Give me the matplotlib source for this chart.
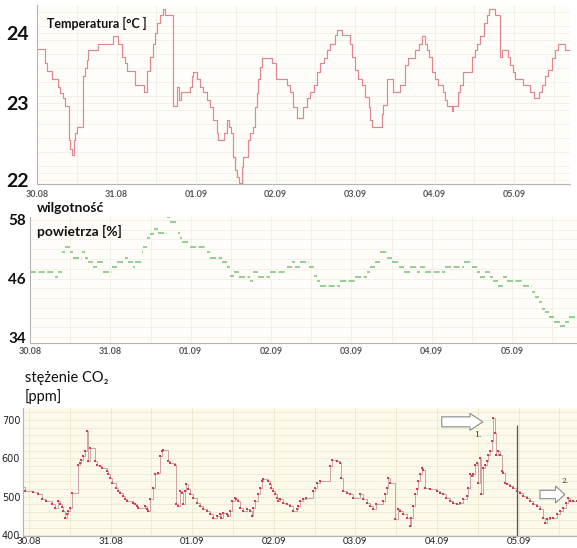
import numpy as np
import matplotlib
matplotlib.use("Agg")
import matplotlib.pyplot as plt
from matplotlib.patches import FancyArrow

plt.rcParams['font.family'] = ['Lato', 'DejaVu Sans']

# ---------------- data ----------------
day_labels = ['30.08', '31.08', '01.09', '02.09', '03.09', '04.09', '05.09']
day_hours = [0, 24, 48, 72, 96, 120, 144]

temp_hours = [0, 2.4, 2.9, 4.4, 6.4, 6.9, 7.7, 8.5, 9.7, 10.1, 10.6, 11.1, 11.5, 12.0, 14.0, 14.5, 15.0, 15.5,
              18.5, 23.0, 24.6, 25.6, 26.6, 27.1, 29.6, 32.3, 33.3, 34.1, 34.9, 35.6, 36.1, 37.1, 37.9, 38.6,
              41.2, 42.4, 42.9, 43.5, 46.2, 46.7, 47.2, 48.2, 49.2, 50.2, 51.2, 52.2, 53.2, 54.2, 54.7, 56.3,
              57.3, 58.1, 58.5, 59.3, 59.8, 60.3, 61.1, 61.8, 62.3, 63.8, 64.3, 65.3, 65.8, 66.3, 66.8, 67.3,
              67.8, 70.8, 72.0, 75.4, 76.4, 77.4, 78.4, 80.4, 81.4, 82.5, 83.5, 84.5, 85.5, 86.5, 87.5, 88.5,
              90.0, 90.5, 92.0, 94.5, 95.0, 96.0, 97.0, 98.0, 99.1, 100.1, 100.6, 101.1, 104.1, 104.6, 105.6,
              107.6, 109.6, 111.1, 112.1, 114.1, 115.2, 116.2, 117.2, 117.7, 118.2, 119.2, 120.2, 121.2, 122.7,
              123.2, 123.7, 125.2, 125.7, 127.2, 127.7, 128.7, 131.2, 132.3, 132.8, 133.8, 134.8, 135.8, 136.3,
              138.3, 139.8, 140.3, 142.3, 142.8, 143.8, 144.3, 146.8, 148.9, 149.9, 151.4, 152.4, 153.4, 154.4,
              155.4, 156.4, 157.4, 159.4, 160.9]
temp_values = [23.77, 23.57, 23.46, 23.35, 23.23, 23.14, 23.07, 22.96, 22.47, 22.35, 22.26, 22.47, 22.57, 22.66,
               23.38, 23.50, 23.61, 23.76, 23.85, 23.96, 23.85, 23.66, 23.57, 23.46, 23.26, 23.16, 23.46, 23.66,
               23.85, 24.00, 24.14, 24.26, 24.35, 24.26, 22.96, 23.23, 23.04, 23.16, 23.23, 23.38, 23.45, 23.35,
               23.23, 23.16, 23.04, 22.95, 22.76, 22.57, 22.47, 22.57, 22.76, 22.66, 22.57, 22.23, 22.04, 21.95,
               21.86, 22.09, 22.23, 22.47, 22.57, 22.66, 22.95, 23.14, 23.35, 23.52, 23.64, 23.57, 23.35, 23.26,
               23.16, 22.95, 22.78, 22.95, 23.07, 23.16, 23.26, 23.45, 23.57, 23.65, 23.76, 23.85, 23.97, 24.04,
               23.97, 23.85, 23.66, 23.47, 23.35, 23.26, 23.09, 22.95, 22.76, 22.66, 22.85, 22.97, 23.35, 23.16,
               23.26, 23.54, 23.65, 23.76, 23.85, 23.96, 23.85, 23.76, 23.66, 23.45, 23.35, 23.26, 23.16, 23.04,
               22.96, 22.88, 22.96, 23.16, 23.26, 23.45, 23.66, 23.76, 23.85, 23.96, 24.14, 24.26, 24.35, 24.26,
               23.66, 23.76, 23.66, 23.54, 23.45, 23.35, 23.26, 23.16, 23.07, 23.16, 23.26, 23.38, 23.47, 23.64,
               23.76, 23.85, 23.76, 23.76]

hum_hours = [0, 7.5, 8.5, 9.5, 10.5, 12.0, 12.9, 15.4, 16.4, 17.4, 18.9, 19.9, 21.9, 24.4, 25.9, 28.4, 29.4,
             30.9, 31.4, 33.4, 33.9, 34.9, 35.9, 36.9, 38.3, 40.8, 41.8, 44.3, 44.8, 45.3, 47.8, 52.8, 53.8,
             57.3, 58.8, 59.8, 60.8, 62.3, 65.7, 66.7, 68.2, 71.7, 76.7, 78.2, 79.2, 80.7, 83.2, 84.7, 85.7,
             86.7, 92.6, 97.1, 100.6, 101.6, 103.1, 104.6, 106.6, 108.1, 110.1, 111.6, 113.5, 115.5, 116.5,
             118.0, 124.0, 129.5, 132.0, 133.5, 134.5, 136.0, 137.5, 138.4, 139.9, 141.4, 142.4, 147.4, 149.9,
             150.9, 151.9, 152.9, 153.9, 154.9, 156.4, 158.4, 159.9, 160.9]
hum_values = [47.3, 46.4, 47.3, 51.4, 52.4, 51.4, 50.3, 51.4, 50.3, 49.3, 48.3, 49.3, 47.3, 48.3, 49.3, 50.3,
              49.3, 48.3, 49.3, 51.4, 52.4, 54.4, 55.1, 56.1, 55.4, 58.5, 57.5, 55.4, 54.4, 53.4, 52.4, 51.4,
              50.3, 49.3, 48.3, 46.6, 47.3, 46.4, 45.4, 47.3, 46.4, 47.3, 48.3, 49.3, 48.3, 49.3, 48.3, 46.6,
              45.4, 44.5, 45.4, 46.4, 47.4, 48.3, 49.3, 51.4, 50.3, 49.3, 48.3, 47.3, 48.3, 47.3, 48.3, 47.3,
              48.3, 49.3, 48.3, 47.3, 46.4, 47.3, 46.4, 45.4, 44.5, 46.4, 45.4, 44.5, 43.2, 42.2, 41.2, 39.8,
              39.2, 38.2, 37.1, 36.3, 37.1, 38.2]
hum_end = 163.4

co2_hours = [-1.7, -1.2, 1.2, 2.7, 3.7, 5.1, 6.6, 7.6, 8.6, 9.1, 9.6, 10.0, 10.5, 11.0, 11.5, 12.0, 12.5, 14.5,
             15.0, 15.4, 15.9, 16.4, 16.9, 17.4, 17.9, 19.4, 19.9, 20.8, 21.3, 22.8, 23.3, 23.8, 24.3, 25.7,
             26.2, 26.7, 27.7, 28.2, 28.7, 30.6, 31.1, 31.6, 32.1, 34.1, 34.6, 35.1, 35.5, 36.5, 37.0, 38.0,
             38.5, 39.0, 39.5, 40.9, 41.4, 42.9, 43.2, 43.9, 44.4, 44.9, 45.4, 45.8, 46.3, 46.8, 47.3, 48.3,
             49.3, 50.3, 51.2, 52.2, 53.2, 54.2, 55.2, 56.1, 56.6, 57.1, 58.1, 58.6, 59.1, 59.6, 60.6, 61.0,
             61.5, 62.0, 63.0, 64.0, 65.0, 65.5, 65.9, 66.4, 67.4, 67.9, 68.4, 68.9, 70.4, 70.9, 71.3, 71.8,
             72.3, 72.8, 73.3, 73.8, 74.8, 75.8, 76.7, 77.7, 78.7, 79.2, 79.7, 80.7, 81.6, 83.6, 84.1, 84.6,
             85.6, 88.5, 89.0, 90.5, 91.4, 91.9, 92.4, 93.4, 94.4, 95.4, 97.3, 98.3, 99.3, 100.3, 101.3, 102.2,
             104.2, 104.7, 105.2, 105.7, 106.2, 107.6, 108.6, 109.1, 110.1, 111.1, 112.0, 112.5, 113.0, 113.5,
             114.0, 114.5, 115.0, 115.5, 116.0, 116.5, 117.9, 119.9, 120.9, 121.8, 122.8, 123.8, 124.8, 125.8,
             126.8, 127.7, 128.7, 129.2, 129.7, 130.2, 130.7, 131.2, 131.7, 132.1, 132.6, 133.1, 133.6, 134.1,
             134.6, 135.1, 135.6, 136.1, 136.6, 137.0, 137.5, 138.0, 138.5, 139.0, 139.5, 140.0, 140.5, 141.5,
             142.4, 143.4, 144.4, 145.4, 146.4, 147.3, 148.3, 149.3, 150.3, 151.3, 151.8, 152.3, 153.2, 154.2,
             155.2, 156.2, 157.2, 158.1, 158.6, 159.1, 160.1, 161.1]
co2_values = [525, 515, 512, 506, 495, 489, 480, 472, 489, 480, 473, 463, 446, 454, 463, 472, 510, 584,
              588, 597, 605, 618, 670, 592, 627, 592, 584, 579, 575, 566, 558, 549, 536, 523,
              515, 510, 502, 493, 489, 485, 480, 476, 472, 476, 467, 463, 493, 523, 558, 562,
              605, 618, 622, 592, 588, 584, 480, 476, 515, 510, 480, 515, 532, 519, 506, 498,
              485, 476, 467, 463, 454, 446, 450, 454, 446, 459, 454, 450, 463, 489, 496, 493,
              489, 472, 463, 467, 463, 450, 472, 489, 506, 523, 541, 545, 541, 532, 523, 515,
              506, 498, 489, 493, 485, 480, 476, 463, 467, 476, 489, 493, 498, 515, 523, 536,
              541, 579, 597, 592, 588, 549, 515, 510, 506, 498, 506, 493, 485, 476, 467, 480,
              489, 506, 523, 549, 536, 441, 467, 463, 454, 446, 424, 446, 476, 506,
              519, 541, 558, 575, 571, 523, 519, 515, 510, 506, 498, 489, 485, 480,
              485, 493, 502, 523, 558, 554, 558, 584, 588, 536, 601, 506, 575, 584,
              592, 609, 618, 644, 704, 666, 609, 618, 609, 566, 562, 536, 532, 528,
              523, 515, 510, 502, 498, 489, 480, 476, 467, 446, 433, 441, 446, 446,
              454, 463, 472, 485, 498, 489, 489, 489]

marker_time = 143.5          # vertical marker line on 05.09
marker_top = 687
arrow1 = dict(x=121.4, y=695, dx=12.1, width=26, head_width=44, head_length=3.8)
arrow2 = dict(x=150.3, y=506, dx=7.3, width=22, head_width=44, head_length=2.7)

# ---------------- figure ----------------
W, H = 577, 548
fig = plt.figure(figsize=(W / 100, H / 100), dpi=100)
fig.patch.set_facecolor('white')


def rect(l, t, r, b):
    return [l / W, 1 - b / H, (r - l) / W, (b - t) / H]


ax1 = fig.add_axes(rect(37, 5, 570, 184))
ax2 = fig.add_axes(rect(30, 217, 577, 343))
ax3 = fig.add_axes(rect(23, 408, 577, 536))

for ax in (ax1, ax2, ax3):
    for s in ('top', 'right'):
        ax.spines[s].set_visible(False)
    for s in ('left', 'bottom'):
        ax.spines[s].set_color('#b4b4b4')
        ax.spines[s].set_linewidth(0.8)
    ax.set_xticks(day_hours)
    ax.set_xticks(np.arange(0, 162, 12), minor=True)
    ax.tick_params(which='both', length=0)
    ax.set_axisbelow(True)

# ---- panel 1: temperature ----
ax1.set_facecolor('#fefdf9')
ax1.step(temp_hours, temp_values, where='post', color='#e08690', lw=0.85)
ax1.set_xlim(0, 160.9)
ax1.set_ylim(21.843, 24.4)
ax1.set_yticks([22, 23, 24])
ax1.set_yticks(np.arange(21.9, 24.4, 0.2), minor=True)
ax1.grid(which='both', color='#f1efe4', lw=0.6)
ax1.set_yticklabels(['22', '23', '24'], fontsize=14, fontweight='bold', color='#111')
ax1.tick_params(axis='y', pad=6)
ax1.get_yticklabels()[0].set_va('top')
ax1.set_xticklabels(day_labels, fontsize=6.5, fontweight='bold', color='#555')
ax1.tick_params(axis='x', pad=4)
fig.text(47 / W, 1 - 23 / H, 'Temperatura [°C ]', fontsize=9, fontweight='bold',
         color='#111', va='center', ha='left')

# ---- panel 2: humidity ----
ax2.set_facecolor('#fefdf9')
starts = hum_hours
ends = hum_hours[1:] + [hum_end]
ax2.hlines(hum_values, starts, ends, colors='#78c275', lw=1.1, linestyles=(0, (4, 1.6)))
ax2.set_xlim(0, hum_end)
ax2.set_ylim(32.8, 58.6)
ax2.set_yticks([34, 46, 58])
ax2.set_yticks(np.arange(34, 59, 2), minor=True)
ax2.grid(which='both', color='#f1efe4', lw=0.6)
ax2.set_yticklabels(['34', '46', '58'], fontsize=11, fontweight='bold', color='#111')
ax2.tick_params(axis='y', pad=3)
ax2.set_xticklabels(day_labels, fontsize=6.5, fontweight='bold', color='#555')
ax2.tick_params(axis='x', pad=3)
fig.text(37 / W, 1 - 208 / H, 'wilgotność', fontsize=10, fontweight='bold',
         color='#111', va='center', ha='left')
fig.text(37 / W, 1 - 231 / H, 'powietrza [%]', fontsize=10, fontweight='bold',
         color='#111', va='center', ha='left')

# ---- panel 3: CO2 ----
ax3.set_facecolor('#fcfaea')
ax3.plot(co2_hours, co2_values, drawstyle='steps-post', color='#c4949c', lw=0.6)
ax3.plot(co2_hours, co2_values, ls='none', marker='s', ms=1.6, color='#d23a55', mew=0)
ax3.set_xlim(-1.8, 161.2)
ax3.set_ylim(398, 731)
ax3.set_yticks([400, 500, 600, 700])
ax3.set_yticks(np.arange(400, 731, 20), minor=True)
ax3.grid(which='both', color='#eee8cf', lw=0.6)
ax3.set_yticklabels(['400', '500', '600', '700'], fontsize=7, color='#222',
                    family=['Liberation Sans Narrow', 'DejaVu Sans'])
ax3.tick_params(axis='y', pad=2)
ax3.set_xticklabels(day_labels, fontsize=7, color='#222')
ax3.tick_params(axis='x', pad=1)
ax3.vlines(marker_time, 398, marker_top, color='#555555', lw=0.9)
for a in (arrow1, arrow2):
    ax3.add_patch(FancyArrow(a['x'], a['y'], a['dx'], 0, width=a['width'],
                             head_width=a['head_width'], head_length=a['head_length'],
                             length_includes_head=True, fc='white', ec='#8a8a8a', lw=0.8,
                             clip_on=False))
ax3.text(132.0, 661, '1.', fontsize=5.5, family='DejaVu Serif', color='#333', ha='center', va='center')
ax3.text(157.6, 540, '2.', fontsize=5.5, family='DejaVu Serif', color='#333', ha='center', va='center')
fig.text(25 / W, 1 - 378 / H, 'stężenie CO₂', fontsize=10.5, color='#111', va='center', ha='left')
fig.text(25 / W, 1 - 397 / H, '[ppm]', fontsize=10.5, color='#111', va='center', ha='left')

fig.savefig('out.png', dpi=100, facecolor='white')
